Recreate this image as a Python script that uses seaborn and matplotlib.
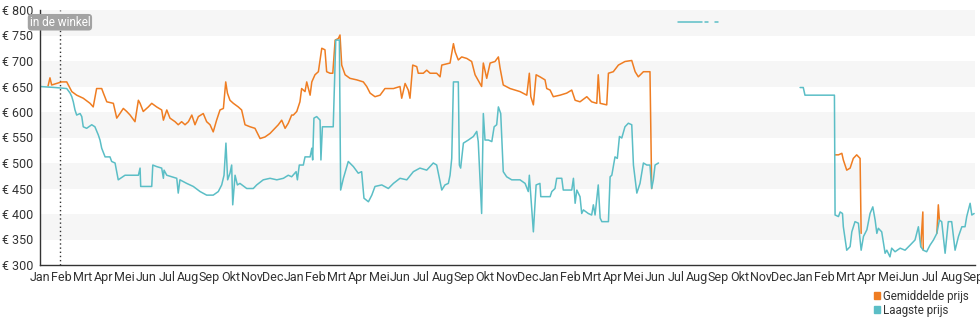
import matplotlib
matplotlib.use("Agg")
import matplotlib.pyplot as plt
import matplotlib.transforms as mtransforms
from matplotlib.patches import Patch
import pandas as pd
import seaborn as sns

# ---------------- data ----------------
months = ["Jan", "Feb", "Mrt", "Apr", "Mei", "Jun", "Jul", "Aug", "Sep", "Okt", "Nov", "Dec"]
tick_labels = months * 3 + months[:9]
y_ticks = [300, 350, 400, 450, 500, 550, 600, 650, 700, 750, 800]
in_store_month = 0.94  # "in de winkel" marker (months since first Jan)

# time in months since first January, price in euro (None = gap)
avg_t = [0.38, 0.47, 0.55, 1.02, 1.26, 1.50, 1.73, 2.04, 2.36, 2.51, 2.67, 2.91, 2.99, 3.15, 3.46,
         3.62, 3.77, 3.93, 4.09, 4.25, 4.48, 4.64, 4.72, 4.87, 5.11, 5.27, 5.50, 5.74, 5.82, 5.98,
         6.13, 6.37, 6.52, 6.68, 6.84, 7.00, 7.16, 7.31, 7.47, 7.70, 7.86, 8.02, 8.17, 8.33, 8.49,
         8.65, 8.76, 8.84, 8.96, 9.12, 9.35, 9.51, 9.67, 9.91, 10.14, 10.38, 10.61, 10.85, 11.08,
         11.24, 11.40, 11.56, 11.71, 11.87, 11.95, 12.11, 12.26, 12.34, 12.50, 12.58, 12.74, 12.82,
         12.97, 13.13, 13.29, 13.44, 13.52, 13.68, 13.81, 13.92, 14.07, 14.15, 14.23, 14.39, 14.62,
         14.94, 15.25, 15.41, 15.57, 15.80, 16.04, 16.27, 16.67, 16.98, 17.06, 17.22, 17.37, 17.45,
         17.58, 17.77, 17.84, 18.08, 18.24, 18.40, 18.71, 18.87, 18.95, 19.34, 19.50, 19.58, 19.73,
         19.89, 20.13, 20.36, 20.52, 20.83, 20.91, 21.07, 21.23, 21.46, 21.62, 21.70, 21.85, 22.17,
         22.64, 22.96, 23.08, 23.15, 23.27, 23.40, 23.58, 23.82, 23.90, 24.06, 24.21, 24.53, 24.84,
         25.08, 25.24, 25.47, 25.79, 26.02, 26.26, 26.33, 26.42, 26.73, 26.81, 27.04, 27.28, 27.59,
         27.91, 28.07, 28.22, 28.46, 28.77, 28.85,
         None,
         37.50, 37.66, 37.82, 37.89, 38.05, 38.21, 38.36, 38.52, 38.68, 38.73,
         None,
         41.54, 41.64, 41.66,
         None,
         42.30, 42.37, 42.42]
avg_p = [651, 667, 653, 659, 659, 640, 633, 627, 617, 610, 646, 646, 637, 620, 617,
         588, 597, 607, 601, 594, 581, 623, 617, 601, 610, 617, 610, 604, 584, 604,
         588, 581, 575, 581, 575, 581, 594, 575, 591, 597, 581, 575, 561, 584, 604,
         607, 659, 637, 623, 617, 610, 604, 575, 571, 568, 548, 551, 558, 568,
         575, 584, 568, 578, 594, 594, 601, 620, 646, 640, 659, 633, 659,
         673, 679, 725, 722, 679, 676, 676, 741, 744, 751, 692, 673, 666,
         663, 659, 650, 637, 630, 633, 646, 646, 650, 627, 656, 643, 627,
         692, 689, 676, 676, 682, 676, 676, 669, 692, 696, 734, 718, 702,
         708, 705, 699, 673, 650, 696, 666, 696, 699, 708, 686, 653, 646,
         640, 633, 676, 630, 614, 673, 669, 663, 646, 643, 630, 633, 637,
         643, 623, 620, 630, 620, 617, 673, 617, 614, 676, 679, 692, 699,
         701, 679, 669, 679, 679, 450,
         None,
         516, 516, 519, 506, 486, 490, 509, 516, 509, 362,
         None,
         336, 404, 329,
         None,
         362, 418, 388]

low_t = [0.00, 0.71, 1.26, 1.42, 1.50, 1.57, 1.65, 1.73, 1.89, 1.97, 2.04, 2.20, 2.44, 2.59, 2.75,
         2.83, 2.91, 3.07, 3.30, 3.38, 3.54, 3.69, 4.01, 4.64, 4.72, 4.75, 5.27, 5.32, 5.50, 5.74,
         5.82, 5.85, 5.98, 6.21, 6.45, 6.52, 6.60, 6.92, 7.23, 7.55, 7.86, 8.17, 8.41, 8.57, 8.68,
         8.77, 8.85, 8.96, 9.04, 9.09, 9.20, 9.31, 9.43, 9.75, 10.06, 10.22, 10.53, 10.85, 11.17,
         11.48, 11.71, 11.87, 12.08, 12.14, 12.23, 12.42, 12.50, 12.74, 12.82, 12.86, 12.92, 13.05,
         13.21, 13.25, 13.32, 13.83, 13.95, 14.12, 14.18, 14.31, 14.54, 14.78, 15.01, 15.17, 15.28,
         15.49, 15.65, 15.80, 16.12, 16.43, 16.67, 16.98, 17.30, 17.61, 17.92, 18.24, 18.55, 18.71,
         18.95, 19.10, 19.26, 19.34, 19.42, 19.50, 19.73, 19.78, 19.84, 19.97, 20.20, 20.44, 20.60,
         20.67, 20.83, 20.91, 20.99, 21.15, 21.31, 21.42, 21.54, 21.62, 21.73, 21.85, 22.01, 22.25,
         22.64, 22.88, 23.03, 23.08, 23.15, 23.27, 23.40, 23.58, 23.62, 24.06, 24.14, 24.29, 24.37,
         24.61, 24.68, 25.08, 25.16, 25.24, 25.32, 25.47, 25.55, 25.63, 25.86, 26.02, 26.10, 26.18,
         26.33, 26.42, 26.50, 26.81, 26.89, 26.97, 27.12, 27.23, 27.33, 27.44, 27.59, 27.75, 27.91,
         27.99, 28.15, 28.30, 28.46, 28.62, 28.77, 28.85, 28.93, 29.01, 29.17,
         None,
         30.09, 31.23,
         None,
         31.37, 31.51,
         None,
         31.84, 31.98,
         None,
         35.85, 36.00, 36.08, 37.47, 37.50, 37.66, 37.74, 37.85, 37.89, 38.05, 38.21, 38.29, 38.44,
         38.60, 38.73, 38.84, 39.00, 39.15, 39.28, 39.39, 39.47, 39.54, 39.70, 39.86, 39.94, 40.09,
         40.17, 40.33, 40.57, 40.80, 41.04, 41.27, 41.43, 41.54, 41.66, 41.82, 41.98, 42.14, 42.30,
         42.42, 42.53, 42.69, 42.84, 43.00, 43.16, 43.32, 43.48, 43.63, 43.71, 43.87, 43.95, 44.06]
low_p = [650, 648, 646, 637, 630, 620, 604, 594, 597, 591, 571, 568, 575, 571, 555,
         545, 529, 512, 512, 503, 500, 467, 476, 476, 490, 454, 454, 496, 493, 490,
         470, 486, 476, 473, 470, 441, 467, 460, 454, 444, 437, 437, 444, 457, 476,
         539, 467, 480, 496, 418, 476, 457, 460, 450, 450, 457, 467, 470, 467,
         470, 476, 473, 483, 467, 496, 496, 512, 512, 529, 506, 588, 591,
         584, 506, 571, 571, 741, 741, 447, 470, 503, 493, 480, 483, 431,
         424, 437, 454, 457, 450, 460, 470, 467, 483, 490, 486, 500, 496,
         447, 457, 460, 476, 509, 659, 659, 496, 490, 539, 545, 552, 562,
         542, 401, 597, 545, 545, 542, 571, 575, 610, 597, 483, 473, 467,
         467, 460, 444, 476, 434, 365, 457, 460, 434, 434, 444, 450, 470,
         470, 447, 447, 470, 421, 447, 434, 401, 408, 401, 398, 418, 398,
         457, 392, 385, 385, 473, 476, 512, 509, 552, 549, 571, 578, 575,
         496, 441, 460, 500, 496, 496, 450, 467, 496, 500,
         None,
         777, 777,
         None,
         777, 777,
         None,
         777, 777,
         None,
         648, 648, 633, 633, 398, 395, 404, 401, 375, 329, 336, 365, 385,
         382, 329, 356, 369, 401, 414, 388, 362, 372, 365, 323, 329, 316,
         333, 326, 333, 329, 339, 349, 375, 336, 329, 326, 339, 349, 362,
         388, 385, 323, 385, 385, 329, 356, 375, 375, 395, 421, 398, 401]

AVG_NAME = "Gemiddelde prijs"
LOW_NAME = "Laagste prijs"
ORANGE = "#ef7d22"
TEAL = "#5bbec6"


def to_frame(ts, ps, name):
    rows, seg = [], 0
    for t, p in zip(ts, ps):
        if t is None or p is None:
            seg += 1
            continue
        rows.append((t, p, name, f"{name}-{seg}"))
    return pd.DataFrame(rows, columns=["t", "prijs", "reeks", "seg"])


df = pd.concat([to_frame(avg_t, avg_p, AVG_NAME), to_frame(low_t, low_p, LOW_NAME)],
               ignore_index=True)

# ---------------- style ----------------
sns.set_theme(style="white")
plt.rcParams["font.family"] = ["Roboto", "DejaVu Sans"]
TXT = "#333333"

fig = plt.figure(figsize=(9.8, 3.25), dpi=100)
ax = fig.add_axes([40 / 980, 60 / 325, 935 / 980, 255 / 325])

# alternating bands
for lo, hi in zip(y_ticks[1::2], y_ticks[2::2]):
    ax.axhspan(lo, hi, color="#f6f6f6", zorder=0, lw=0)

sns.lineplot(data=df, x="t", y="prijs", hue="reeks", units="seg", estimator=None,
             sort=False, palette={AVG_NAME: ORANGE, LOW_NAME: TEAL},
             hue_order=[AVG_NAME, LOW_NAME], linewidth=1.1, legend=False, ax=ax)

ax.set_xlim(0, 44.1)
ax.set_ylim(y_ticks[0], y_ticks[-1])
ax.set_xticks(range(len(tick_labels)))
ax.set_xticklabels(tick_labels)
ax.set_yticks(y_ticks)
ax.set_yticklabels([f"€ {v}" for v in y_ticks])
ax.set_xlabel("")
ax.set_ylabel("")

for s in ["top", "right"]:
    ax.spines[s].set_visible(False)
for s in ["left", "bottom"]:
    ax.spines[s].set_color(TXT)
    ax.spines[s].set_linewidth(1)

ax.tick_params(axis="both", direction="out", length=4, width=1, color=TXT,
               labelsize=9, labelcolor=TXT, pad=1)
ax.tick_params(axis="x", pad=0)

# "in de winkel" marker
ax.axvline(in_store_month, color=TXT, ls=(0, (1, 2)), lw=1, zorder=1)
trans = mtransforms.blended_transform_factory(ax.transData, ax.transAxes)
ax.text(in_store_month, 0.952, "in de winkel", transform=trans, ha="center", va="center",
        fontsize=8.5, color="white", zorder=5,
        bbox=dict(boxstyle="round,pad=0.15,rounding_size=0.3", fc="#a3a3a3", ec="none"))

# legend
handles = [Patch(color=ORANGE, label=AVG_NAME), Patch(color=TEAL, label=LOW_NAME)]
fig.legend(handles=handles, loc="upper left", bbox_to_anchor=(874 / 980, 1 - 290 / 325),
           frameon=False, handlelength=0.55, handleheight=0.55, handletextpad=0.25,
           labelspacing=0.05, fontsize=8.3, borderpad=0, borderaxespad=0,
           labelcolor=TXT)

fig.savefig("out.png", dpi=100)
